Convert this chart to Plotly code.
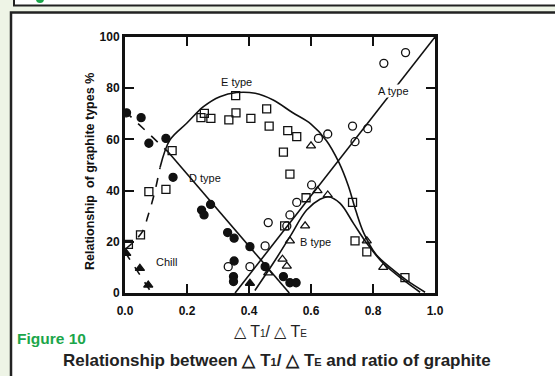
import plotly.graph_objects as go

# ---------------- data ----------------
# open squares
sq_x = [0.011, 0.05, 0.077, 0.132, 0.152, 0.245, 0.256, 0.277, 0.335, 0.358, 0.357, 0.406,
        0.457, 0.465, 0.525, 0.554, 0.511, 0.532, 0.584, 0.515, 0.734, 0.742, 0.78, 0.903]
sq_y = [19, 22.7, 39.6, 40.5, 55.6, 68.5, 70.2, 68.2, 67.6, 70.4, 77.1, 68.2,
        71.9, 65.2, 63.4, 61.1, 55.0, 46.4, 37.2, 26.2, 35.4, 20.4, 16.1, 6.0]
# open circles
ci_x = [0.333, 0.403, 0.452, 0.462, 0.522, 0.532, 0.554, 0.602, 0.624, 0.654, 0.734, 0.783,
        0.742, 0.835, 0.905]
ci_y = [10.3, 10.3, 18.4, 27.5, 26.2, 30.5, 35.4, 42.2, 60.4, 62.1, 65.2, 64.2,
        59.1, 89.7, 93.9]
# open triangles
tr_x = [0.462, 0.508, 0.522, 0.532, 0.581, 0.600, 0.621, 0.654, 0.78, 0.833]
tr_y = [7.9, 13.2, 10.5, 20.4, 26.2, 57.5, 40.0, 38.3, 20.4, 10.0]
# filled circles
fc_x = [0.005, 0.052, 0.077, 0.132, 0.155, 0.247, 0.255, 0.276, 0.331, 0.352, 0.403, 0.352,
        0.35, 0.35, 0.452, 0.511, 0.532, 0.552]
fc_y = [70.4, 68.5, 58.5, 60.4, 45.2, 32.4, 30.5, 34.6, 23.6, 21.4, 18.1, 12.5,
        6.4, 4.5, 10.3, 6.4, 4.0, 4.0]
# filled triangles (chill)
ft_x = [0.004, 0.048, 0.075, 0.403]
ft_y = [15.5, 9.6, 3.1, 3.8]

# curves
e_dash_x = [0.0, 0.054, 0.075, 0.095, 0.113]
e_dash_y = [17, 23.6, 30.5, 39, 49]
e_x = [0.113, 0.145, 0.199, 0.253, 0.306, 0.36, 0.42, 0.478, 0.54, 0.6, 0.65, 0.69,
       0.72, 0.745, 0.77, 0.81, 0.86, 0.91, 0.968]
e_y = [49, 59.8, 66.3, 72.8, 76.7, 78.3, 78.0, 75.4, 70.5, 66.0, 59.5, 51.0,
       42.0, 32.0, 23.5, 15.0, 9.5, 4.8, 0.3]
b_x = [0.419, 0.478, 0.532, 0.586, 0.629, 0.656, 0.694, 0.737, 0.78, 0.833, 0.898, 0.952]
b_y = [1.0, 11.6, 22, 32.4, 36.6, 37.6, 35, 27.2, 19.4, 11.6, 5.1, 0.3]
d_dash_x = [0.0, 0.14]
d_dash_y = [71, 55]
d_x = [0.14, 0.53]
d_y = [55, 0]
a_x = [0.355, 1.0]
a_y = [0, 100]
chill_x = [0.0, 0.086]
chill_y = [16, 0]

x_ticks = [0.0, 0.2, 0.4, 0.6, 0.8, 1.0]
x_tick_labels = ["0.0", "0.2", "0.4", "0.6", "0.8", "1.0"]
y_ticks = [0, 20, 40, 60, 80, 100]

labels = [("E type", 0.36, 82.3), ("A type", 0.865, 79.0), ("D type", 0.257, 44.9),
          ("Chill", 0.134, 12.2), ("B type", 0.616, 19.8)]

FONT = "Liberation Sans Narrow, Liberation Sans, Arial, sans-serif"
BK = "#111111"
BG = "#eef4e6"

fig = go.Figure()

def line(x, y, dash="solid"):
    fig.add_trace(go.Scatter(x=x, y=y, mode="lines", line=dict(color=BK, width=1.6, dash=dash, shape="spline"),
                             hoverinfo="skip", showlegend=False))

line(e_dash_x, e_dash_y, "dash")
line(e_x, e_y)
line(b_x, b_y)
line(d_dash_x, d_dash_y, "dash")
line(d_x, d_y)
line(a_x, a_y)
line(chill_x, chill_y, "dash")

def pts(x, y, sym, size=8):
    fig.add_trace(go.Scatter(x=x, y=y, mode="markers",
                             marker=dict(symbol=sym, size=size, color=BK, line=dict(color=BK, width=1.3)),
                             showlegend=False))

pts(sq_x, sq_y, "square-open")
pts(ci_x, ci_y, "circle-open")
pts(tr_x, tr_y, "triangle-up-open")
pts(fc_x, fc_y, "circle")
pts(ft_x, ft_y, "triangle-up", 8)

for t, x, y in labels:
    fig.add_annotation(x=x, y=y, text=t, showarrow=False, xanchor="center", yanchor="middle",
                       bgcolor="white" if t == "A type" else None, borderpad=0,
                       font=dict(family=FONT, size=11, color=BK))

# outer decorative boxes (paper coords: plot area 125..435 px wide, 37..293 px tall)
def px2x(p):
    return (p - 125) / 310.0

def py2y(p):
    return (293 - p) / 256.0

fig.add_shape(type="rect", xref="paper", yref="paper", x0=px2x(14), x1=px2x(570), y0=py2y(5.5), y1=py2y(-20),
              line=dict(color="#222", width=2), fillcolor="white", layer="below")
fig.add_shape(type="rect", xref="paper", yref="paper", x0=px2x(11), x1=px2x(570), y0=py2y(390), y1=py2y(12.5),
              line=dict(color="#222", width=2.5), fillcolor="white", layer="below")
fig.add_shape(type="circle", xref="paper", yref="paper", x0=px2x(36), x1=px2x(44), y0=py2y(3), y1=py2y(-5),
              line=dict(width=0), fillcolor="#1aa64a", layer="below")

fig.add_annotation(xref="paper", yref="paper", x=px2x(90), y=py2y(172), xanchor="center", yanchor="middle",
                   text="Relationship  of graphite types %",
                   textangle=-90, showarrow=False, font=dict(family=FONT, size=12.5, color=BK, weight="bold"))
fig.add_annotation(xref="paper", yref="paper", x=px2x(270), y=py2y(331), xanchor="center", yanchor="middle",
                   text="△ T<span style='font-size:10px'>1</span>/ △ T<span style='font-size:10px'>E</span>",
                   showarrow=False, font=dict(family="Liberation Sans, Arial, sans-serif", size=16, color="#222"))
fig.add_annotation(xref="paper", yref="paper", x=px2x(15), y=py2y(338), xanchor="left", yanchor="middle",
                   text="Figure 10",
                   showarrow=False, font=dict(family=FONT, size=15.5, color="#1aa64a", weight="bold"))
fig.add_annotation(xref="paper", yref="paper", x=px2x(277), y=py2y(360), xanchor="center", yanchor="middle",
                   text="Relationship between △ T<span style='font-size:11px'>1</span>/ △ T<span style='font-size:11px'>E</span> and ratio of graphite",
                   showarrow=False, font=dict(family=FONT, size=17, color="#222", weight="bold"))

axis_common = dict(showgrid=False, zeroline=False, showline=True, linecolor=BK, linewidth=3,
                   mirror="ticks", ticks="inside", ticklen=9, tickwidth=2, tickcolor=BK,
                   tickfont=dict(family=FONT, size=12, color=BK, weight="bold"))

fig.update_xaxes(range=[0, 1], tickvals=x_ticks, ticktext=x_tick_labels, ticklabelstandoff=5, **axis_common)
fig.update_yaxes(range=[0, 100], tickvals=y_ticks, **axis_common)

fig.update_layout(width=555, height=376, margin=dict(l=125, r=120, t=37, b=83),
                  paper_bgcolor=BG, plot_bgcolor="white", showlegend=False)

fig.write_html("out.html", config={"displayModeBar": False},
               post_script="document.body.style.margin='0';document.body.style.background='%s';" % BG)
